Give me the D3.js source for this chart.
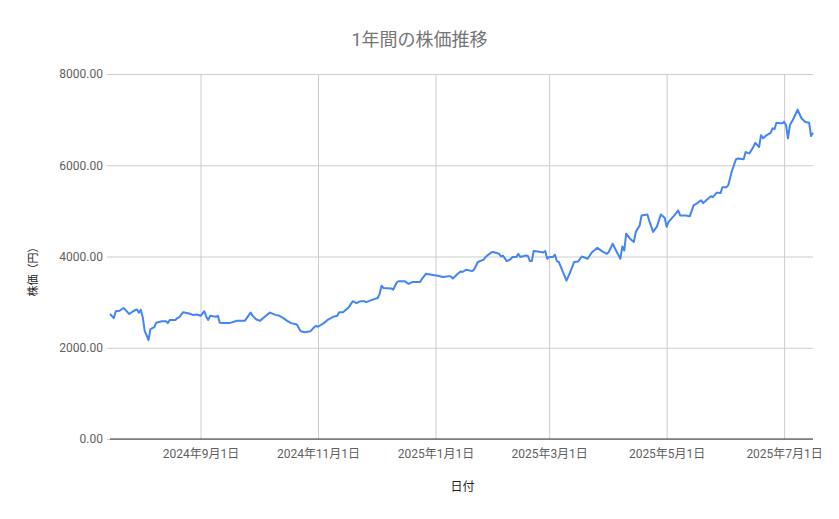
<!DOCTYPE html>
<html>
<head>
<meta charset="utf-8">
<script src="https://cdn.jsdelivr.net/npm/d3@7"></script>
<style>
  body { margin: 0; background: #fff; }
  text { font-family: Roboto, "Noto Sans CJK JP", sans-serif; }
</style>
</head>
<body>
<div class="canvas"></div>
<script>
// data
const dates = [
  "2024-07-16", "2024-07-18", "2024-07-19", "2024-07-21", "2024-07-23", "2024-07-24", "2024-07-26", "2024-07-28",
  "2024-07-30", "2024-07-31", "2024-08-01", "2024-08-02", "2024-08-03", "2024-08-05", "2024-08-06", "2024-08-08",
  "2024-08-09", "2024-08-12", "2024-08-14", "2024-08-15", "2024-08-16", "2024-08-19", "2024-08-20", "2024-08-21",
  "2024-08-23", "2024-08-26", "2024-08-28", "2024-08-30", "2024-09-01", "2024-09-03", "2024-09-04", "2024-09-05",
  "2024-09-06", "2024-09-09", "2024-09-10", "2024-09-11", "2024-09-13", "2024-09-16", "2024-09-20", "2024-09-24",
  "2024-09-25", "2024-09-27", "2024-09-28", "2024-09-30", "2024-10-02", "2024-10-04", "2024-10-07", "2024-10-10",
  "2024-10-12", "2024-10-14", "2024-10-16", "2024-10-18", "2024-10-21", "2024-10-23", "2024-10-25", "2024-10-28",
  "2024-10-30", "2024-10-31", "2024-11-01", "2024-11-04", "2024-11-06", "2024-11-09", "2024-11-11", "2024-11-12",
  "2024-11-14", "2024-11-17", "2024-11-19", "2024-11-21", "2024-11-23", "2024-11-25", "2024-11-26", "2024-11-29",
  "2024-12-02", "2024-12-03", "2024-12-04", "2024-12-05", "2024-12-09", "2024-12-10", "2024-12-12", "2024-12-13",
  "2024-12-16", "2024-12-18", "2024-12-20", "2024-12-24", "2024-12-25", "2024-12-27", "2024-12-30", "2025-01-02",
  "2025-01-05", "2025-01-08", "2025-01-09", "2025-01-10", "2025-01-12", "2025-01-14", "2025-01-15", "2025-01-17",
  "2025-01-20", "2025-01-21", "2025-01-23", "2025-01-26", "2025-01-27", "2025-01-30", "2025-01-31", "2025-02-03",
  "2025-02-04", "2025-02-05", "2025-02-07", "2025-02-09", "2025-02-10", "2025-02-12", "2025-02-13", "2025-02-14",
  "2025-02-17", "2025-02-18", "2025-02-19", "2025-02-20", "2025-02-21", "2025-02-23", "2025-02-26", "2025-02-27",
  "2025-02-28", "2025-03-01", "2025-03-03", "2025-03-04", "2025-03-05", "2025-03-06", "2025-03-08", "2025-03-10",
  "2025-03-12", "2025-03-14", "2025-03-16", "2025-03-18", "2025-03-21", "2025-03-23", "2025-03-26", "2025-03-29",
  "2025-03-31", "2025-04-01", "2025-04-03", "2025-04-05", "2025-04-07", "2025-04-08", "2025-04-09", "2025-04-10",
  "2025-04-12", "2025-04-14", "2025-04-15", "2025-04-17", "2025-04-18", "2025-04-21", "2025-04-22", "2025-04-24",
  "2025-04-26", "2025-04-28", "2025-04-30", "2025-05-01", "2025-05-02", "2025-05-05", "2025-05-07", "2025-05-08",
  "2025-05-11", "2025-05-13", "2025-05-15", "2025-05-17", "2025-05-18", "2025-05-19", "2025-05-20", "2025-05-22",
  "2025-05-24", "2025-05-25", "2025-05-27", "2025-05-29", "2025-05-30", "2025-06-01", "2025-06-02", "2025-06-04",
  "2025-06-06", "2025-06-07", "2025-06-10", "2025-06-11", "2025-06-12", "2025-06-13", "2025-06-15", "2025-06-16",
  "2025-06-18", "2025-06-19", "2025-06-20", "2025-06-22", "2025-06-24", "2025-06-25", "2025-06-26", "2025-06-27",
  "2025-06-29", "2025-06-30", "2025-07-01", "2025-07-02", "2025-07-03", "2025-07-04", "2025-07-06", "2025-07-08",
  "2025-07-10", "2025-07-12", "2025-07-14", "2025-07-15", "2025-07-16",
];

const prices = [
  2740, 2650, 2800, 2810, 2870, 2830, 2740, 2800,
  2840, 2770, 2830, 2670, 2370, 2170, 2410, 2450,
  2550, 2580, 2580, 2540, 2610, 2610, 2650, 2670,
  2780, 2750, 2720, 2730, 2700, 2800, 2680, 2610,
  2700, 2680, 2700, 2550, 2540, 2540, 2590, 2590,
  2650, 2770, 2700, 2620, 2590, 2670, 2770, 2720,
  2700, 2650, 2590, 2540, 2510, 2360, 2340, 2360,
  2450, 2480, 2460, 2540, 2610, 2680, 2700, 2780,
  2780, 2890, 3020, 2980, 3020, 3020, 3000, 3050,
  3090, 3180, 3360, 3310, 3300, 3270, 3440, 3460,
  3460, 3400, 3440, 3440, 3510, 3620, 3600, 3580,
  3550, 3570, 3560, 3520, 3600, 3670, 3660, 3710,
  3680, 3710, 3880, 3930, 3990, 4090, 4100, 4060,
  4000, 4020, 3900, 3940, 3990, 3990, 4060, 3990,
  4020, 4010, 3900, 3900, 4120, 4110, 4090, 4120,
  3950, 3990, 3990, 4040, 3900, 3880, 3680, 3470,
  3660, 3880, 3890, 4000, 3950, 4080, 4190, 4100,
  4060, 4100, 4280, 4110, 3950, 4220, 4130, 4500,
  4390, 4320, 4540, 4680, 4900, 4920, 4780, 4540,
  4660, 4920, 4850, 4650, 4760, 4900, 5010, 4900,
  4900, 4880, 5120, 5170, 5210, 5230, 5170, 5250,
  5320, 5300, 5400, 5390, 5520, 5520, 5560, 5890,
  6130, 6150, 6130, 6290, 6270, 6260, 6400, 6490,
  6400, 6660, 6590, 6660, 6710, 6810, 6790, 6930,
  6920, 6920, 6950, 6880, 6590, 6880, 7030, 7220,
  7030, 6950, 6930, 6640, 6710,
];

const xTickDates = ["2024-09-01", "2024-11-01", "2025-01-01", "2025-03-01", "2025-05-01", "2025-07-01"];
const yTicks = [0, 2000, 4000, 6000, 8000];

const margin = { top: 74, right: 26, bottom: 80, left: 110 };
const width = 839;
const height = 519;
const graphWidth = width - margin.left - margin.right;
const graphHeight = height - margin.top - margin.bottom;

const parseDate = d3.timeParse("%Y-%m-%d");
const data = dates.map((d, i) => ({ date: parseDate(d), price: prices[i] }));

const svg = d3
  .select(".canvas")
  .append("svg")
  .attr("width", width)
  .attr("height", height);

svg.append("rect").attr("width", width).attr("height", height).attr("fill", "#fff");

const graph = svg
  .append("g")
  .attr("transform", `translate(${margin.left},${margin.top})`);

// scales
const x = d3.scaleTime().domain(d3.extent(data, (d) => d.date)).range([0, graphWidth]);
const y = d3.scaleLinear().domain([0, 8000]).range([graphHeight, 0]);

// y axis + horizontal grid
const yAxis = d3
  .axisLeft(y)
  .tickValues(yTicks)
  .tickFormat((d) => d.toFixed(2))
  .tickSizeInner(-graphWidth)
  .tickSizeOuter(0)
  .tickPadding(7);

const yAxisGroup = graph.append("g").attr("class", "y-axis").call(yAxis);
yAxisGroup.select(".domain").remove();
yAxisGroup.selectAll("line").attr("x1", -3).attr("stroke", "#cccccc");
yAxisGroup
  .selectAll("text")
  .attr("fill", "#5f5f5f")
  .style("font-size", "12px");

// x axis + vertical grid
const xAxis = d3
  .axisBottom(x)
  .tickValues(xTickDates.map(parseDate))
  .tickFormat(d3.timeFormat("%Y年%-m月%-d日"))
  .tickSizeInner(-graphHeight)
  .tickSizeOuter(0)
  .tickPadding(10);

const xAxisGroup = graph
  .append("g")
  .attr("class", "x-axis")
  .attr("transform", `translate(0,${graphHeight})`)
  .call(xAxis);
xAxisGroup.select(".domain").remove();
xAxisGroup.selectAll("line").attr("stroke", "#cccccc");
xAxisGroup
  .selectAll("text")
  .attr("fill", "#5f5f5f")
  .style("font-size", "12px");

// baseline at zero
graph
  .append("line")
  .attr("x1", 0)
  .attr("x2", graphWidth)
  .attr("y1", y(0))
  .attr("y2", y(0))
  .attr("stroke", "#333")
  .attr("stroke-width", 1);

// price line
const line = d3
  .line()
  .x((d) => x(d.date))
  .y((d) => y(d.price));

graph
  .append("path")
  .datum(data)
  .attr("fill", "none")
  .attr("stroke", "#4285f4")
  .attr("stroke-width", 2)
  .attr("stroke-linejoin", "round")
  .attr("d", line);

// titles
svg
  .append("text")
  .attr("x", width / 2)
  .attr("y", 46)
  .attr("text-anchor", "middle")
  .attr("fill", "#757575")
  .style("font-size", "18px")
  .text("1年間の株価推移");

svg
  .append("text")
  .attr("x", margin.left + graphWidth / 2 + 1)
  .attr("y", 491)
  .attr("text-anchor", "middle")
  .attr("fill", "#222")
  .style("font-size", "12px")
  .text("日付");

svg
  .append("text")
  .attr("transform", "translate(33,269) rotate(-90)")
  .attr("text-anchor", "middle")
  .attr("dy", "0.35em")
  .attr("fill", "#222")
  .style("font-size", "11px")
  .text("株価（円）");
</script>
</body>
</html>
